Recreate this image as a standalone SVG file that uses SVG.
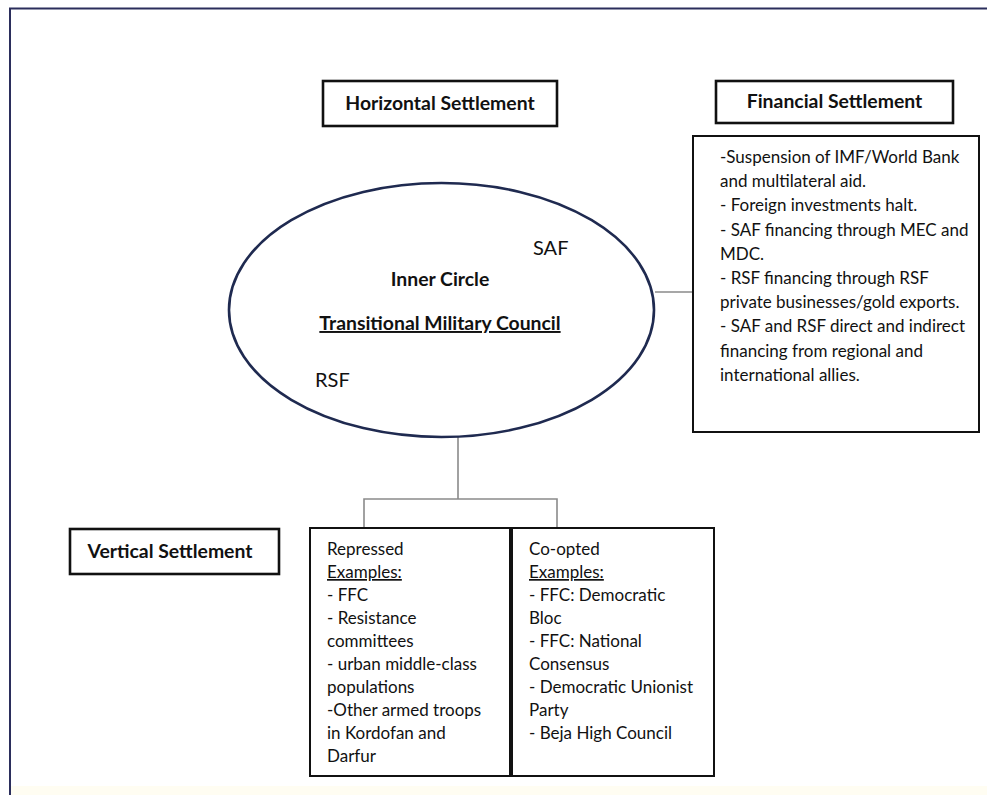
<svg xmlns="http://www.w3.org/2000/svg" width="987" height="795" viewBox="0 0 987 795">
<style>
text{font-family:Lato,"Open Sans","Liberation Sans",sans-serif;fill:#111}
.b{font-weight:bold}
.box{fill:#fff;stroke:#111;stroke-width:2}
.hbox{fill:#fff;stroke:#111;stroke-width:2.6}
.conn{fill:none;stroke:#8a8a8a;stroke-width:1.6}
.t{font-size:17px}
.h{font-size:19.4px;font-weight:bold}
.u{text-decoration:underline}
</style>
<rect x="0" y="0" width="987" height="795" fill="#fff"/>
<rect x="10" y="786" width="977" height="9" fill="#fffdf2"/>
<path d="M10,795 V8.5 H987" fill="none" stroke="#2b2e5c" stroke-width="2"/>

<g id="connectors">
<line class="conn" x1="655" y1="292" x2="693" y2="292"/>
<path class="conn" d="M458,437 V499 M364,528 V499 H557 V528"/>
</g>

<g id="horizontal-settlement">
<rect class="hbox" x="323" y="81" width="234" height="45"/>
<text class="h" x="440" y="110" text-anchor="middle">Horizontal Settlement</text>
</g>

<g id="financial-settlement">
<rect class="hbox" x="716" y="81" width="237" height="42"/>
<text class="h" x="834.5" y="108" text-anchor="middle">Financial Settlement</text>
</g>

<g id="inner-circle">
<ellipse cx="441.5" cy="310" rx="212.5" ry="127" fill="#fff" stroke="#1f2a50" stroke-width="2.6"/>
<text x="533" y="255" font-size="20">SAF</text>
<text class="h" x="440" y="286" text-anchor="middle">Inner Circle</text>
<text class="h u" x="440" y="330" text-anchor="middle">Transitional Military Council</text>
<text x="315" y="387" font-size="20">RSF</text>
</g>

<g id="financial-details">
<rect class="box" x="693" y="136" width="286" height="296"/>
<text class="t" x="720" y="163">-Suspension of IMF/World Bank</text>
<text class="t" x="720" y="187">and multilateral aid.</text>
<text class="t" x="720" y="211">- Foreign investments halt.</text>
<text class="t" x="720" y="236">- SAF financing through MEC and</text>
<text class="t" x="720" y="260">MDC.</text>
<text class="t" x="720" y="284">- RSF financing through RSF</text>
<text class="t" x="720" y="308">private businesses/gold exports.</text>
<text class="t" x="720" y="332">- SAF and RSF direct and indirect</text>
<text class="t" x="720" y="357">financing from regional and</text>
<text class="t" x="720" y="381">international allies.</text>
</g>

<g id="vertical-settlement">
<rect class="hbox" x="70" y="529" width="209" height="45"/>
<text class="h" x="170" y="558" text-anchor="middle">Vertical Settlement</text>
</g>

<g id="repressed">
<rect class="box" x="310" y="528" width="200" height="248"/>
<text class="t" x="327" y="555">Repressed</text>
<text class="t u" x="327" y="578">Examples:</text>
<text class="t" x="327" y="601">- FFC</text>
<text class="t" x="327" y="624">- Resistance</text>
<text class="t" x="327" y="647">committees</text>
<text class="t" x="327" y="670">- urban middle-class</text>
<text class="t" x="327" y="693">populations</text>
<text class="t" x="327" y="716">-Other armed troops</text>
<text class="t" x="327" y="739">in Kordofan and</text>
<text class="t" x="327" y="762">Darfur</text>
</g>

<g id="co-opted">
<rect class="box" x="512" y="528" width="202" height="248"/>
<text class="t" x="529" y="555">Co-opted</text>
<text class="t u" x="529" y="578">Examples:</text>
<text class="t" x="529" y="601">- FFC: Democratic</text>
<text class="t" x="529" y="624">Bloc</text>
<text class="t" x="529" y="647">- FFC: National</text>
<text class="t" x="529" y="670">Consensus</text>
<text class="t" x="529" y="693">- Democratic Unionist</text>
<text class="t" x="529" y="716">Party</text>
<text class="t" x="529" y="739">- Beja High Council</text>
</g>
</svg>
